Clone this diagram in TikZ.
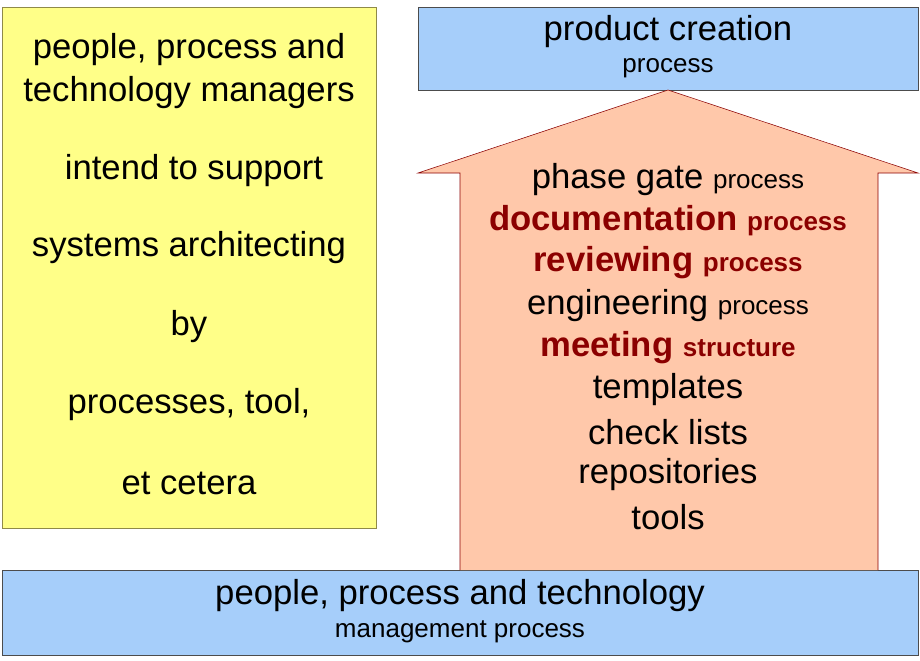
\documentclass[tikz,border=0pt]{standalone}
\usepackage{fontspec}
\setmainfont{Liberation Sans}
\definecolor{boxblue}{HTML}{A6CEFA}
\definecolor{boxyellow}{HTML}{FFFF88}
\definecolor{arrowfill}{HTML}{FFC8AA}
\definecolor{darkred}{HTML}{8B0000}
\tikzset{
  big/.style={font=\fontsize{26}{30}\selectfont},
  small/.style={font=\fontsize{19.5}{23}\selectfont},
  hot/.style={text=darkred, font=\bfseries\fontsize{26}{30}\selectfont},
}
\newcommand{\sm}[1]{{\fontsize{19.5}{23}\selectfont #1}}
\begin{document}
\begin{tikzpicture}[x=0.75pt,y=-0.75pt]
        \useasboundingbox (0,0) rectangle (920,660);
        \draw[fill=boxyellow, draw=black!50!yellow] (2,7) rectangle (376,528);
        \draw[fill=boxblue, draw=black!70] (418,7) rectangle (918,90);
        \draw[fill=boxblue, draw=black!70] (2,570) rectangle (918,655);
        \draw[fill=arrowfill, draw=darkred] (460,570) -- (460,173) -- (418,173) -- (668,90)
            -- (918,173) -- (878,173) -- (878,570);
        
        \node[big] (pc) at (668,32) {product creation};
        \node[small] (pcp) at (668,68) {process};
        \node[big] (ppt) at (460,596) {people, process and technology};
        \node[small] (pptp) at (460,632) {management process};
        
        \node[big] (y1) at (189,50) {people, process and};
        \node[big] (y2) at (189,93) {technology managers};
        \node[big] (y3) at (194,171) {intend to support};
        \node[big] (y4) at (189,248) {systems architecting};
        \node[big] (y5) at (189,327) {by};
        \node[big] (y6) at (189,405) {processes, tool,};
        \node[big] (y7) at (189,483) {et cetera};
        
        \node[big] (a1) at (668,180) {phase gate \sm{process}};
        \node[hot] (a2) at (668,221) {documentation \sm{process}};
        \node[hot] (a3) at (668,263) {reviewing \sm{process}};
        \node[big] (a4) at (668,306) {engineering \sm{process}};
        \node[hot] (a5) at (668,348) {meeting \sm{structure}};
        \node[big] (a6) at (668,390) {templates};
        \node[big] (a7) at (668,432) {check lists};
        \node[big] (a8) at (668,475) {repositories};
        \node[big] (a9) at (668,517) {tools};
\end{tikzpicture}
\end{document}
